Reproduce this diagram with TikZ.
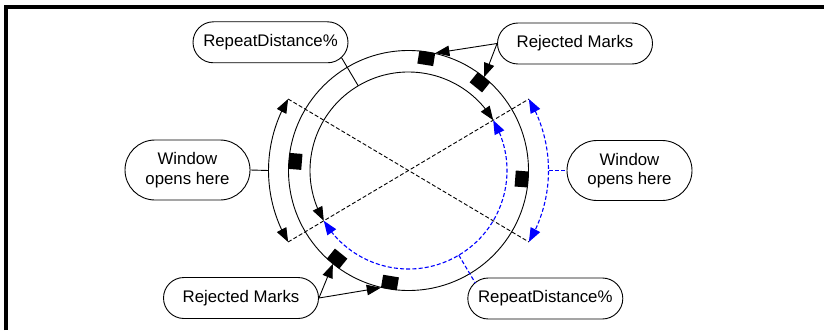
\documentclass[tikz,border=0pt]{standalone}
\usepackage{fontspec}
\setmainfont{Liberation Sans}
\usetikzlibrary{arrows.meta,shapes.misc,calc,bending}
\begin{document}
\begin{tikzpicture}[x=1pt,y=1pt,
  every node/.style={font=\fontsize{16.8}{19.5}\selectfont},
  lbl/.style={draw, line width=0.9pt, rounded rectangle, inner sep=0pt, minimum width=155pt, minimum height=41pt},
  wlbl/.style={lbl, minimum width=125pt, minimum height=60pt, align=center},
  rmark/.style={fill=black, draw=none, inner sep=0pt, minimum width=13pt, minimum height=16pt},
  ln/.style={line width=0.9pt},
  tip/.style={-{Triangle[length=14pt,width=10.5pt]}},
  dtip/.style={{Triangle[length=14pt,width=10.5pt]}-{Triangle[length=14pt,width=10.5pt]}},
  dsh/.style={dash pattern=on 4pt off 2.2pt},
  bdash/.style={blue, dsh, line width=1.1pt}
]
\useasboundingbox (0,0) rectangle (824,330);
\draw[line width=4.3pt] (6.3,0) -- (6.3,323.3) -- (824,323.3);

\coordinate (c) at (408.5,159.5);
\draw[ln] (c) circle[radius=120];

\foreach \a/\n in {81/m1,51/m2,175.4/m3,-4.3/m4,231/m5,260.6/m6}
  \node[rmark, rotate=\a] (\n) at ($(c)+(\a:113.5)$) {};

% dashed X
\coordinate (ul) at ($(c)+(149.3:140)$);
\coordinate (ll) at ($(c)+(210.7:140)$);
\coordinate (ur) at ($(c)+(30.7:140)$);
\coordinate (lr) at ($(c)+(-30.7:140)$);
\draw[ln, dsh] (ul) -- (lr);
\draw[ln, dsh] (ll) -- (ur);

% outer window arcs
\draw[ln, dtip] (ul) arc[start angle=149.3, end angle=210.7, radius=140];
\draw[ln, bdash, dtip] (ur) arc[start angle=30.7, end angle=-30.7, radius=140];

% inner arcs
\coordinate (iur) at ($(c)+(30.7:98.5)$);
\draw[ln, dtip] (iur) arc[start angle=30.7, end angle=210.7, radius=98.5];
\draw[ln, bdash, dtip] (iur) arc[start angle=30.7, end angle=-149.3, radius=98.5];

% labels
\node[lbl] (rdtop) at (270.5,287.7) {RepeatDistance\%};
\node[lbl] (rmtop) at (575,286.5) {Rejected Marks};
\node[wlbl] (wleft) at (187.5,160) {Window\\opens here};
\node[wlbl] (wright) at (629.5,159.5) {Window\\opens here};
\node[lbl] (rmbot) at (241,32) {Rejected Marks};
\node[lbl] (rdbot) at (545.3,31.5) {RepeatDistance\%};

% connectors
\draw[ln, tip] (rmtop.west) -- (m1.south east);
\draw[ln, tip] (rmtop.west) -- (m2.east);
\draw[ln, tip] (rmbot.east) -- (m5.east);
\draw[ln, tip] (rmbot.east) -- (m6.south east);

\coordinate (lw) at ($(c)+(180:140)$);
\coordinate (rw) at ($(c)+(0:140)$);
\draw[ln] (wleft.east) -- (lw);
\draw[ln, bdash] (rw) -- (wright.west);

\coordinate (rd1a) at ($(c)+(120.7:98.5)$);
\coordinate (rd1b) at ($(c)+(120.7:131)$);
\coordinate (rd2a) at ($(c)+(300.7:98.5)$);
\coordinate (rd2b) at ($(c)+(300.7:131)$);
\draw[ln] (rd1a) -- (rd1b);
\draw[ln, bdash] (rd2a) -- (rd2b);
\end{tikzpicture}
\end{document}
